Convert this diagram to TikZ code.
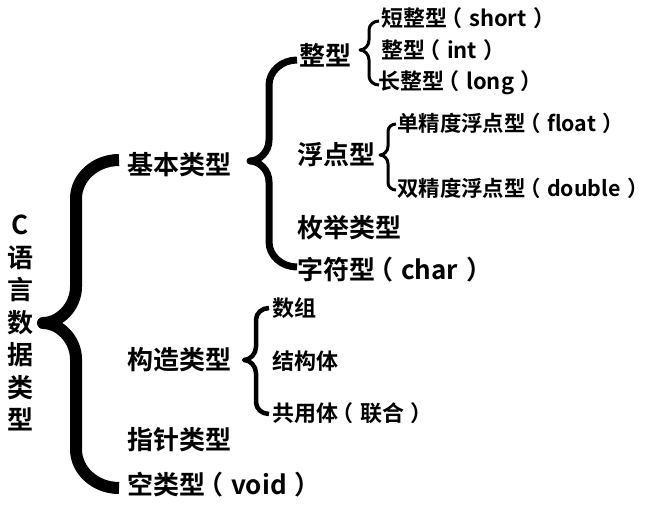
\documentclass[tikz,border=0pt]{standalone}
\usepackage{fontspec}
\setmainfont{Noto Sans CJK SC}[UprightFont=* Bold]
\newcommand\lpar{\kern-0.3em（\kern0.3em}
\newcommand\rpar{\kern0.3em）\kern-0.55em}
% #1 end x, #2 vertical x, #3 tip x, #4 top y, #5 tip y, #6 bottom y, #7 line width
\newcommand\cbr[7]{%
  \pgfmathsetmacro\bwe{#1-#2}%
  \pgfmathsetmacro\bwt{#2-#3}%
  \pgfmathsetmacro\bhe{0.9*\bwe}%
  \pgfmathsetmacro\bht{1.1*\bwt}%
  \draw[line width=#7,line join=round]
    (#1,#4) .. controls (#2+0.45*\bwe,#4) and (#2,#4+0.45*\bhe) .. (#2,#4+\bhe)
    -- (#2,#5-\bht) .. controls (#2,#5-0.45*\bht) and (#3+0.5*\bwt,#5) .. (#3,#5)
    .. controls (#3+0.5*\bwt,#5) and (#2,#5+0.45*\bht) .. (#2,#5+\bht)
    -- (#2,#6-\bhe) .. controls (#2,#6-0.45*\bhe) and (#2+0.45*\bwe,#6) .. (#1,#6);}
\begin{document}
\begin{tikzpicture}[x=1pt,y=-1pt,
  lab/.style={anchor=west,inner sep=0pt,font=\fontsize{26}{26}\selectfont},
  sub/.style={anchor=west,inner sep=0pt,font=\fontsize{22}{22}\selectfont},
  subs/.style={anchor=west,inner sep=0pt,font=\fontsize{21.4}{21.4}\selectfont}]
\useasboundingbox (0,0) rectangle (650,509);
% title
\node[inner sep=0pt,align=center,font=\fontsize{26}{32.5}\selectfont] (title) at (20,323) {C\\语\\言\\数\\据\\类\\型};
% big brace
\cbr{119}{76}{43}{160}{323}{488}{12pt}
\node[lab] (basic) at (127,165) {基本类型};
\node[lab] (struct) at (127,360) {构造类型};
\node[lab] (ptr) at (127,440) {指针类型};
\node[lab] (void) at (127,485) {空类型\lpar void\rpar};
% basic brace
\cbr{297}{269}{250}{60}{161}{267}{7pt}
\node[lab] (int) at (299,55) {整型};
\node[lab] (flt) at (297,155) {浮点型};
\node[lab] (enum) at (297,228) {枚举类型};
\node[lab] (chr) at (297,270) {字符型\lpar char\rpar};
% int brace
\cbr{379}{369}{360}{21}{50}{85}{3pt}
\node[sub] (short) at (381,18) {短整型\lpar short\rpar};
\node[sub] (intt) at (381,50) {整型\lpar int\rpar};
\node[sub] (long) at (378,83) {长整型\lpar long\rpar};
% float brace
\cbr{396}{388}{380}{124}{155}{190}{3pt}
\node[subs] (single) at (397,123) {单精度浮点型\lpar float\rpar};
\node[subs] (double) at (397,188) {双精度浮点型\lpar double\rpar};
% struct brace
\cbr{269}{256}{244}{308}{360}{414}{4.5pt}
\node[sub] (arr) at (272,308) {数组};
\node[sub] (stc) at (272,361) {结构体};
\node[sub] (uni) at (272,413) {共用体\lpar 联合\rpar};
\end{tikzpicture}
\end{document}
